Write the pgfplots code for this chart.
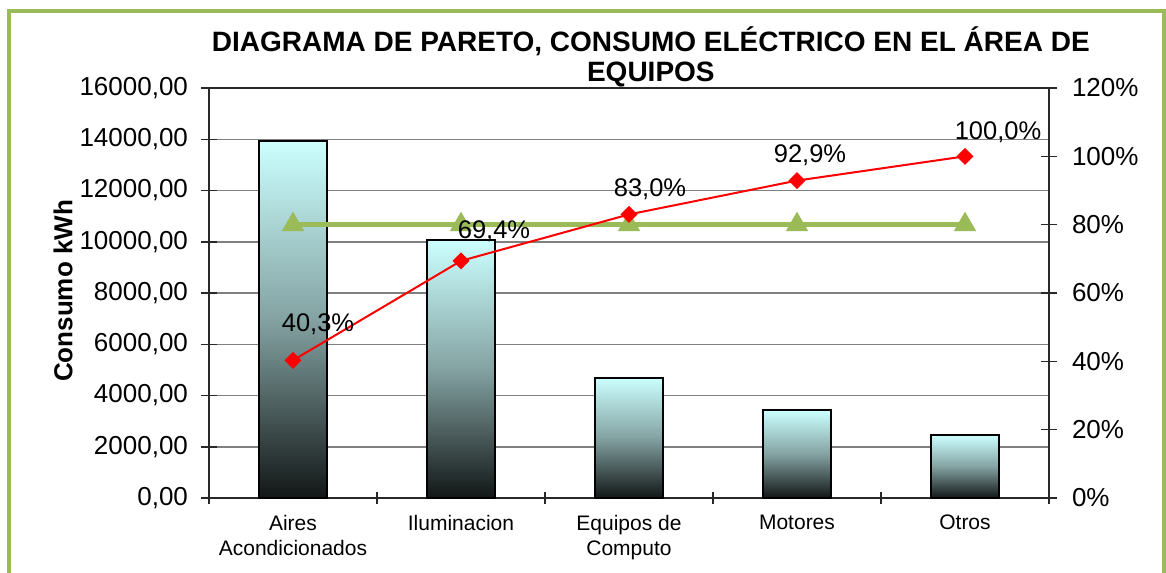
\documentclass[border=0pt]{standalone}
\usepackage{pgfplots}
\pgfplotsset{compat=1.18}
\usepackage{fontspec}
\setmainfont{Liberation Sans}
\definecolor{bordergreen}{RGB}{155,187,89}
\definecolor{barTop}{RGB}{204,255,255}
\definecolor{barMid}{RGB}{132,162,162}
\definecolor{barBot}{RGB}{18,22,22}
\definecolor{gridgray}{RGB}{128,128,128}
\definecolor{axisgray}{RGB}{40,40,40}

\begin{document}
\begin{tikzpicture}
\useasboundingbox (-104.5bp,-37.5bp) rectangle (478.5bp,249bp);
\draw[bordergreen, line width=2bp] (-100bp,-60bp) rectangle (477.5bp,243.5bp);
\begin{axis}[
  scale only axis, width=420bp, height=205bp,
  at={(0,0)}, anchor=south west,
  xmin=-0.5, xmax=4.5, ymin=0, ymax=16000,
  scaled y ticks=false,
  axis line style={axisgray, line width=0.75bp},
  ymajorgrids, major grid style={gridgray, line width=0.75bp},
  ytick={0,2000,...,16000},
  yticklabels={{0,00},{2000,00},{4000,00},{6000,00},{8000,00},{10000,00},{12000,00},{14000,00},{16000,00}},
  ytick pos=left, xtick pos=bottom,
  tick align=center, major tick length=8bp, minor tick length=6bp,
  tick style={axisgray, line width=0.75bp},
  xtick={0,1,2,3,4},
  minor xtick={-0.5,0.5,1.5,2.5,3.5,4.5},
  every major x tick/.append style={draw=none},
  xticklabels={{Aires\\Acondicionados},{Iluminacion},{Equipos de\\Computo},{Motores},{Otros}},
  xticklabel style={align=center, font=\fontsize{10.5bp}{12.5bp}\selectfont, yshift=-1bp},
  yticklabel style={font=\fontsize{13bp}{15bp}\selectfont, xshift=-3bp},
  ylabel={Consumo kWh},
  ylabel style={at={(axis description cs:-0.1738,0.505)}, anchor=center, font=\fontsize{13bp}{15bp}\selectfont\bfseries},
  title={DIAGRAMA DE PARETO, CONSUMO ELÉCTRICO EN EL ÁREA DE\\EQUIPOS},
  title style={at={(axis description cs:0.526,1.0463)}, anchor=center, align=center, font=\fontsize{14bp}{15bp}\selectfont\bfseries},
  barstyle/.style={ybar, bar width=34bp, bar shift=0pt, draw=black, line width=1bp, top color=barTop, bottom color=barBot, middle color=barMid},
]
\addplot[barstyle] coordinates {(0,13930)};
\addplot[barstyle] coordinates {(1,10060)};
\addplot[barstyle] coordinates {(2,4700)};
\addplot[barstyle] coordinates {(3,3420)};
\addplot[barstyle] coordinates {(4,2455)};
\end{axis}
\begin{axis}[
  scale only axis, width=420bp, height=205bp,
  at={(0,0)}, anchor=south west,
  xmin=-0.5, xmax=4.5, ymin=0, ymax=120,
  axis x line=none, axis y line*=right,
  axis line style={axisgray, line width=0.75bp},
  ytick={0,20,...,120},
  yticklabels={0\%,20\%,40\%,60\%,80\%,100\%,120\%},
  tick align=center, major tick length=8bp,
  tick style={axisgray, line width=0.75bp},
  yticklabel style={font=\fontsize{13bp}{15bp}\selectfont, xshift=4bp},
]
\addplot[bordergreen, line width=2.75bp, mark=triangle*, mark size=6bp, mark options={fill=bordergreen, draw=bordergreen, line width=0.5bp}]
  coordinates {(0,80) (1,80) (2,80) (3,80) (4,80)};
\addplot[red, line width=1bp, mark=square*, mark size=2.5bp, mark options={rotate=45, fill=red, draw=red}]
  coordinates {(0,40.3) (1,69.4) (2,83.0) (3,92.9) (4,100.0)};
\coordinate (p0) at (axis cs:0,40.3);
\coordinate (p1) at (axis cs:1,69.4);
\coordinate (p2) at (axis cs:2,83.0);
\coordinate (p3) at (axis cs:3,92.9);
\coordinate (p4) at (axis cs:4,100.0);
\end{axis}
\begin{scope}[every node/.style={font=\fontsize{12.75bp}{14bp}\selectfont, inner sep=0pt}]
\node[xshift=12.5bp, yshift=18bp] at (p0) {40,3\%};
\node[xshift=16.5bp, yshift=15bp] at (p1) {69,4\%};
\node[xshift=10.5bp, yshift=12.5bp] at (p2) {83,0\%};
\node[xshift=6.5bp, yshift=12.5bp] at (p3) {92,9\%};
\node[xshift=16.5bp, yshift=12bp] at (p4) {100,0\%};
\end{scope}
\end{tikzpicture}
\end{document}
